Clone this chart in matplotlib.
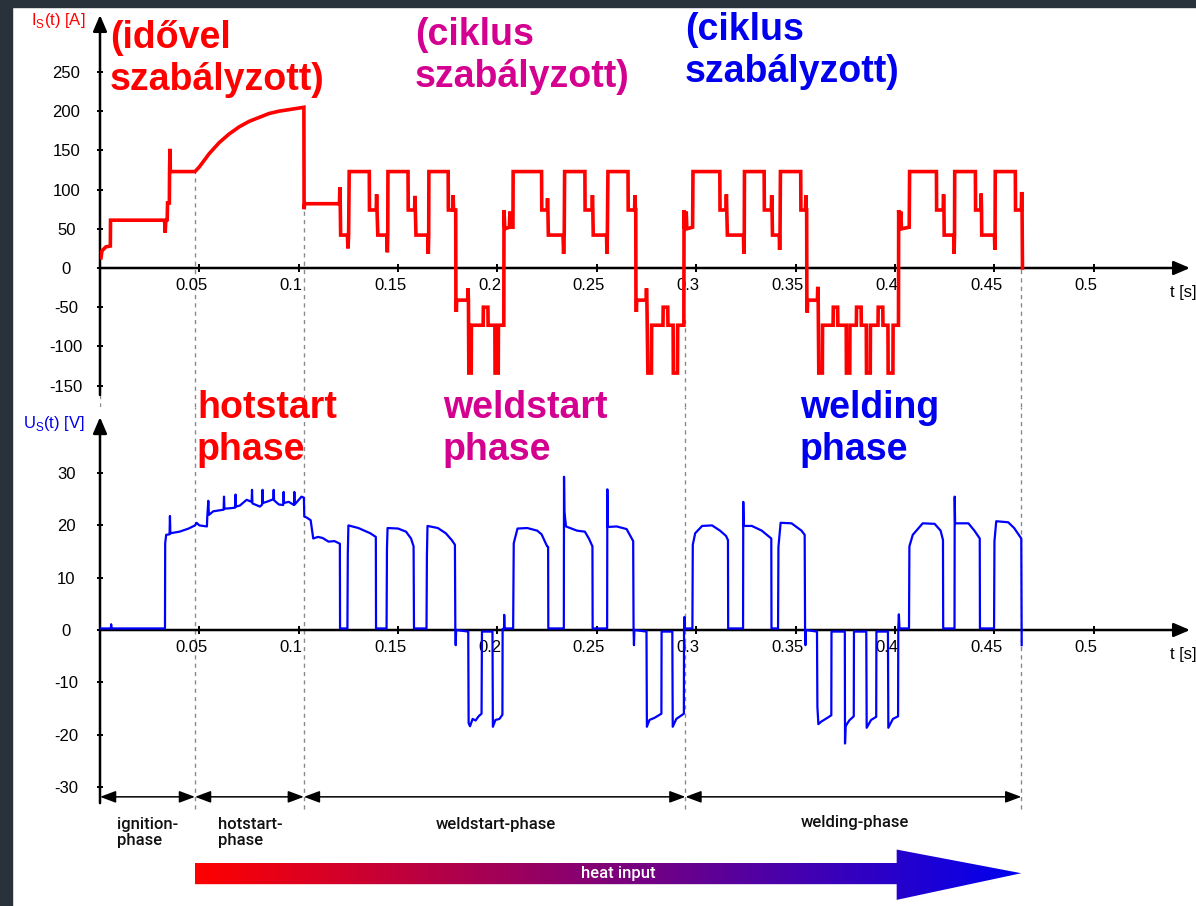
import numpy as np
import matplotlib.pyplot as plt
from matplotlib.patches import Polygon, Rectangle
from matplotlib.transforms import ScaledTranslation

plt.rcParams['font.family'] = ['Liberation Sans', 'DejaVu Sans']
plt.rcParams['mathtext.fontset'] = 'custom'
plt.rcParams['mathtext.rm'] = 'Liberation Sans'

RED = '#ff0000'
MAGENTA = '#d4008f'
BLUE = '#0000ee'

# ---- welding current I_S(t) [A], breakpoints (t [s], I [A]) ----
ignition_I = [(0.0005, 13), (0.001, 22), (0.003, 27), (0.0052, 28), (0.0053, 61),
              (0.0325, 61), (0.0328, 45), (0.0331, 60), (0.0338, 61), (0.0340, 83),
              (0.0349, 83), (0.0350, 122), (0.0352, 152), (0.0354, 123), (0.0478, 123)]
hotstart_I = [(0.050, 129), (0.055, 146), (0.060, 160), (0.065, 171), (0.070, 180),
              (0.075, 187), (0.080, 192), (0.085, 197), (0.090, 200), (0.095, 202),
              (0.100, 204), (0.1026, 205)]
weldstart_I = [(0.1027, 75), (0.1030, 82), (0.1205, 82), (0.1207, 103), (0.1209, 80),
               (0.1211, 42), (0.1245, 42), (0.1248, 25), (0.1251, 42), (0.1254, 123),
               (0.1355, 123), (0.1356, 74), (0.1390, 74), (0.1392, 94), (0.1394, 74),
               (0.1398, 42), (0.1443, 42), (0.1446, 20), (0.1448, 42), (0.1449, 123),
               (0.1550, 123), (0.1551, 74), (0.1583, 74), (0.1585, 92), (0.1587, 74),
               (0.1590, 42), (0.1650, 42), (0.1652, 18), (0.1654, 42), (0.1655, 123),
               (0.1752, 123), (0.1753, 74), (0.1775, 74), (0.1777, 93), (0.1779, 74),
               (0.1790, 74), (0.1791, -41), (0.1793, -56), (0.1795, -41), (0.1850, -41),
               (0.1852, -26), (0.1854, -41), (0.1856, -134), (0.1868, -134), (0.1869, -73),
               (0.1928, -73), (0.1929, -50), (0.1952, -50), (0.1953, -73), (0.1987, -73),
               (0.1988, -134), (0.2004, -134), (0.2005, -73), (0.2032, -73), (0.2033, 74),
               (0.2037, 50), (0.2060, 52), (0.2063, 72), (0.2066, 52), (0.2078, 52),
               (0.2079, 123), (0.2222, 123), (0.2223, 74), (0.2250, 74), (0.2252, 89),
               (0.2254, 74), (0.2256, 42), (0.2330, 42), (0.2333, 18), (0.2336, 42),
               (0.2338, 123), (0.2440, 123), (0.2441, 74), (0.2476, 74), (0.2478, 93),
               (0.2480, 74), (0.2482, 42), (0.2549, 42), (0.2551, 18), (0.2553, 42),
               (0.2556, 123), (0.2657, 123), (0.2658, 74), (0.2690, 74), (0.2692, 93),
               (0.2694, 74), (0.2696, 74), (0.2697, -41), (0.2699, -56), (0.2701, -41),
               (0.2748, -41), (0.2750, -26), (0.2752, -41), (0.2757, -134), (0.2775, -134),
               (0.2776, -73), (0.2833, -73), (0.2834, -50), (0.2857, -50), (0.2858, -73),
               (0.2884, -73), (0.2885, -134), (0.2906, -134), (0.2907, -73), (0.2938, -73)]
welding_I = [(0.2939, 74), (0.2942, 50), (0.2950, 72), (0.2953, 50), (0.2982, 52),
             (0.2984, 123), (0.3119, 123), (0.3120, 74), (0.3150, 74), (0.3152, 94),
             (0.3154, 74), (0.3157, 42), (0.3238, 42), (0.3240, 18), (0.3242, 42),
             (0.3243, 123), (0.3342, 123), (0.3343, 74), (0.3378, 74), (0.3380, 93),
             (0.3382, 74), (0.3384, 42), (0.3418, 42), (0.3420, 23), (0.3422, 42),
             (0.3424, 123), (0.3526, 123), (0.3527, 74), (0.3550, 74), (0.3552, 93),
             (0.3554, 74), (0.3556, 74), (0.3557, -41), (0.3559, -57), (0.3561, -41),
             (0.3610, -41), (0.3612, -24), (0.3614, -41), (0.3617, -134), (0.3635, -134),
             (0.3636, -73), (0.3689, -73), (0.3690, -50), (0.3712, -50), (0.3713, -73),
             (0.3755, -73), (0.3756, -134), (0.3773, -134), (0.3774, -73), (0.3806, -73),
             (0.3807, -50), (0.3830, -50), (0.3831, -73), (0.3856, -73), (0.3857, -134),
             (0.3876, -134), (0.3877, -73), (0.3915, -73), (0.3916, -50), (0.3939, -50),
             (0.3940, -73), (0.3965, -73), (0.3966, -134), (0.3990, -134), (0.3991, -73),
             (0.4018, -73), (0.4019, 74), (0.4022, 50), (0.4030, 72), (0.4033, 50),
             (0.4072, 52), (0.4074, 123), (0.4209, 123), (0.4210, 74), (0.4243, 74),
             (0.4245, 94), (0.4247, 74), (0.4248, 42), (0.4296, 42), (0.4298, 18),
             (0.4300, 42), (0.4301, 123), (0.4405, 123), (0.4406, 74), (0.4432, 74),
             (0.4434, 95), (0.4436, 74), (0.4437, 42), (0.4501, 42), (0.4503, 23),
             (0.4504, 42), (0.4505, 123), (0.4606, 123), (0.4607, 74), (0.4636, 74),
             (0.4638, 97), (0.4640, 74), (0.4642, 0)]

# ---- arc voltage U_S(t) [V], breakpoints (t [s], U [V]) ----
ignition_U = [(0.0, 0.3), (0.0055, 0.3), (0.0056, 1.1), (0.0058, 0.3), (0.0327, 0.3),
              (0.0328, 16.6), (0.0333, 18.2), (0.0350, 18.3), (0.0352, 21.8), (0.0354, 18.5),
              (0.0400, 18.8), (0.0446, 19.4), (0.0478, 20.0)]
hotstart_U = [(0.0486, 20.5), (0.0500, 20.0), (0.0538, 19.8), (0.0540, 21.7), (0.0545, 24.7),
              (0.0548, 22.0), (0.0570, 22.7), (0.0622, 23.0), (0.0624, 25.5), (0.0626, 23.2),
              (0.0660, 23.3), (0.0680, 23.4), (0.0682, 25.9), (0.0684, 23.6), (0.0704, 23.8),
              (0.0738, 24.9), (0.0763, 24.5), (0.0765, 26.8), (0.0767, 24.2), (0.0805, 23.6),
              (0.0816, 24.0), (0.0818, 26.8), (0.0820, 24.3), (0.0838, 24.5), (0.0872, 25.0),
              (0.0874, 26.8), (0.0876, 24.8), (0.0900, 24.0), (0.0922, 23.9), (0.0924, 26.4),
              (0.0926, 24.3), (0.0950, 24.5), (0.0976, 23.9), (0.0978, 26.4), (0.0980, 24.0),
              (0.1014, 25.5), (0.1026, 25.3)]
weldstart_U = [(0.1028, 21.7), (0.1040, 21.5), (0.1060, 21.0), (0.1073, 17.5), (0.1097, 17.8),
               (0.1120, 17.6), (0.1150, 16.9), (0.1180, 17.0), (0.1207, 16.5), (0.1208, 0.3),
               (0.1245, 0.3), (0.1247, 14.7), (0.1250, 20.0), (0.1300, 19.5), (0.1360, 18.5),
               (0.1388, 17.8), (0.1389, 0.3), (0.1442, 0.3), (0.1444, 15.5), (0.1447, 19.5),
               (0.1500, 19.4), (0.1540, 18.8), (0.1565, 17.5), (0.1578, 16.0), (0.1580, 0.3),
               (0.1643, 0.3), (0.1645, 14.0), (0.1648, 19.9), (0.1700, 19.5), (0.1740, 18.5),
               (0.1770, 17.2), (0.1786, 16.3), (0.1788, 0.3), (0.1790, -2.9), (0.1792, 0.0),
               (0.1853, -0.3), (0.1855, -17.8), (0.1862, -18.4), (0.1875, -17.0), (0.1890, -17.3),
               (0.1905, -16.5), (0.1920, -16.0), (0.1922, -0.3), (0.1975, -0.3), (0.1977, -18.5),
               (0.1990, -17.2), (0.2010, -17.0), (0.2025, -16.2), (0.2026, 0.2), (0.2033, 0.2),
               (0.2034, 2.9), (0.2036, 0.3), (0.2079, 0.3), (0.2082, 16.6), (0.2101, 19.4),
               (0.2150, 19.5), (0.2200, 19.0), (0.2222, 18.3), (0.2250, 16.0), (0.2255, 15.9),
               (0.2256, 0.3), (0.2334, 0.3), (0.2335, 29.3), (0.2337, 22.6), (0.2345, 19.8),
               (0.2400, 19.0), (0.2440, 18.8), (0.2460, 17.5), (0.2478, 16.0), (0.2479, 0.3),
               (0.2552, 0.3), (0.2553, 26.9), (0.2555, 19.7), (0.2600, 19.8), (0.2650, 19.3),
               (0.2683, 17.0), (0.2685, 0.0), (0.2687, -2.9), (0.2689, 0.0), (0.2750, -0.3),
               (0.2752, -18.5), (0.2765, -17.2), (0.2790, -16.8), (0.2825, -16.0), (0.2826, -0.3),
               (0.2880, -0.3), (0.2882, -18.5), (0.2900, -17.0), (0.2938, -16.0), (0.2939, 0.2),
               (0.2941, 2.5), (0.2943, 0.3)]
welding_U = [(0.2981, 0.3), (0.2983, 16.3), (0.2995, 18.5), (0.3030, 19.9), (0.3080, 20.0),
             (0.3120, 19.0), (0.3150, 18.0), (0.3160, 17.2), (0.3161, 0.3), (0.3236, 0.3),
             (0.3237, 24.5), (0.3239, 19.9), (0.3280, 19.9), (0.3330, 19.0), (0.3378, 17.5),
             (0.3379, 0.3), (0.3412, 0.3), (0.3414, 15.9), (0.3425, 20.5), (0.3480, 20.4),
             (0.3530, 19.0), (0.3546, 18.2), (0.3548, 0.0), (0.3550, -2.9), (0.3552, 0.0),
             (0.3608, -0.3), (0.3610, -14.7), (0.3615, -18.0), (0.3630, -17.5), (0.3660, -16.8),
             (0.3680, -16.3), (0.3681, -0.3), (0.3748, -0.3), (0.3749, -21.7), (0.3752, -18.4),
             (0.3770, -17.3), (0.3793, -16.5), (0.3794, -0.3), (0.3856, -0.3), (0.3858, -18.7),
             (0.3880, -17.2), (0.3906, -16.6), (0.3907, -0.3), (0.3965, -0.3), (0.3967, -18.7),
             (0.3990, -17.0), (0.4016, -16.5), (0.4017, 0.2), (0.4020, 3.0), (0.4023, 0.3),
             (0.4071, 0.3), (0.4073, 16.0), (0.4090, 18.2), (0.4140, 20.4), (0.4200, 20.3),
             (0.4230, 19.0), (0.4242, 17.2), (0.4243, 0.3), (0.4300, 0.3), (0.4301, 25.5),
             (0.4303, 20.4), (0.4370, 20.4), (0.4400, 19.0), (0.4427, 17.5), (0.4428, 0.3),
             (0.4499, 0.3), (0.4501, 17.0), (0.4510, 20.8), (0.4570, 20.6), (0.4600, 19.5),
             (0.4636, 17.5), (0.4638, -2.9)]

# phase boundaries [s] and where the dashed marker starts on the current trace [A]
phase_t = [0.0478, 0.1026, 0.2946, 0.4636]
phase_I = [123, 80, -60, 0]
phase_names = ['ignition-\nphase', 'hotstart-\nphase', 'weldstart-phase', 'welding-phase']

t_ticks = [0.05, 0.1, 0.15, 0.2, 0.25, 0.3, 0.35, 0.4, 0.45, 0.5]
t_labels = ['0.05', '0.1', '0.15', '0.2', '0.25', '0.3', '0.35', '0.4', '0.45', '0.5']
I_ticks = [-150, -100, -50, 0, 50, 100, 150, 200, 250]
U_ticks = [-30, -20, -10, 0, 10, 20, 30]

W, H = 1196, 906
fig = plt.figure(figsize=(W / 100, H / 100), dpi=100)
fig.patch.set_facecolor('white')


def fx(px):
    return px / W


def fy(py):
    return 1 - py / H


T_MAX = 0.5485
ax1 = fig.add_axes([fx(100), fy(407), 1090 / W, 397 / H])
ax2 = fig.add_axes([fx(100), fy(906), 1090 / W, 499 / H])
ax1.set_facecolor('none')
ax2.set_facecolor('none')

arrow_kw = dict(arrowstyle='-|>,head_length=0.7,head_width=0.3', color='black',
                lw=1.8, mutation_scale=14, shrinkA=0, shrinkB=0)


def style_axes(ax, yticks, y_bottom, y_top):
    for s in ax.spines.values():
        s.set_visible(False)
    ax.spines['bottom'].set_position(('data', 0))
    ax.set_xticks(t_ticks, t_labels)
    ax.set_yticks(yticks, [str(v) for v in yticks], ha='center')
    ax.tick_params(axis='x', direction='inout', length=6, width=1.4, pad=4,
                   labelsize=12, color='black')
    ax.tick_params(axis='y', direction='inout', length=4.5, width=1.4, pad=22,
                   labelsize=12, color='black')
    shift = ScaledTranslation(-0.08, 0, fig.dpi_scale_trans)
    for lbl in ax.get_xticklabels():
        lbl.set_transform(lbl.get_transform() + shift)
    # axis lines with arrow heads
    ax.annotate('', xy=(T_MAX, 0), xytext=(0, 0), arrowprops=arrow_kw, annotation_clip=False)
    ax.annotate('', xy=(0, y_top), xytext=(0, y_bottom), arrowprops=arrow_kw,
                annotation_clip=False)


# ---- top: current ----
ax1.set_xlim(0, T_MAX)
ax1.set_ylim(-177.3, 329.1)
style_axes(ax1, I_ticks, -162, 322.7)
cur = np.array(ignition_I + hotstart_I + weldstart_I + welding_I)
ax1.plot(cur[:, 0], cur[:, 1], color=RED, lw=2.6, solid_joinstyle='miter', zorder=3)
ax1.vlines(phase_t, -177.3, phase_I, colors='#8a8a8a', linestyles=(0, (3, 3)), lw=1, zorder=1)
ax1.vlines([0], -177.3, -162, colors='#8a8a8a', linestyles=(0, (3, 3)), lw=1)

# ---- bottom: voltage ----
ax2.set_xlim(0, T_MAX)
ax2.set_ylim(-52.77, 42.64)
style_axes(ax2, U_ticks, -33.1, 40.7)
vol = np.array(ignition_U + hotstart_U + weldstart_U + welding_U)
ax2.plot(vol[:, 0], vol[:, 1], color='#0000ff', lw=1.6, zorder=3)
ax2.vlines(phase_t, -34.2, 42.64, colors='#8a8a8a', linestyles=(0, (3, 3)), lw=1, zorder=1)

# phase spans
y_span = -31.9
bounds = [0] + phase_t
for a, b in zip(bounds[:-1], bounds[1:]):
    ax2.annotate('', xy=(b, y_span), xytext=(a, y_span),
                 arrowprops=dict(arrowstyle='<|-|>,head_length=0.8,head_width=0.3',
                                 color='black', lw=1.1, mutation_scale=12,
                                 shrinkA=0, shrinkB=0))
lab_kw = dict(fontsize=12, family=['Roboto', 'DejaVu Sans'], fontweight='medium',
              color='#111111', linespacing=1.05, va='top')
ax2.text(0.0085, -35.8, phase_names[0], ha='left', **lab_kw)
ax2.text(0.0595, -35.8, phase_names[1], ha='left', **lab_kw)
ax2.text(0.199, -35.8, phase_names[2], ha='center', **lab_kw)
ax2.text(0.380, -35.4, phase_names[3], ha='center', **lab_kw)

# heat input arrow with red-to-blue gradient
x0, x_head, x_tip = phase_t[0], 0.4009, phase_t[3]
bar_lo, bar_hi, head_lo, head_hi, y_mid = -48.6, -44.55, -51.6, -41.98, -46.5
arrow_poly = Polygon([(x0, bar_hi), (x_head, bar_hi), (x_head, head_hi), (x_tip, y_mid),
                      (x_head, head_lo), (x_head, bar_lo), (x0, bar_lo)],
                     closed=True, facecolor='none', edgecolor='none', transform=ax2.transData)
ax2.add_patch(arrow_poly)
ramp = np.linspace(0, 1, 256)
grad = np.zeros((1, 256, 3))
grad[0, :, 0] = 1 - ramp
grad[0, :, 2] = 0.94 * ramp
img = ax2.imshow(grad, extent=(x0, x_tip, head_lo, head_hi), aspect='auto',
                 interpolation='bilinear', zorder=2)
img.set_clip_path(arrow_poly)
ax2.set_xlim(0, T_MAX)
ax2.set_ylim(-52.77, 42.64)
ax2.text(0.261, y_mid, 'heat input', color='white', fontsize=12, fontweight='medium',
         family=['Roboto', 'DejaVu Sans'], ha='center', va='center', zorder=4)

# axis titles
fig.text(fx(85), fy(20), r'I$_{\mathregular{S}}$(t) [A]', color=RED, fontsize=12,
         ha='right', va='center')
fig.text(fx(85), fy(423), r'U$_{\mathregular{S}}$(t) [V]', color=BLUE, fontsize=12,
         ha='right', va='center')
fig.text(fx(1170), fy(293), 't [s]', fontsize=12, ha='left', va='center')
fig.text(fx(1170), fy(655), 't [s]', fontsize=12, ha='left', va='center')

# large annotations
big = dict(fontsize=27, fontweight='bold', ha='left', va='baseline')


def two_lines(px, py1, py2, l1, l2, color):
    fig.text(fx(px), fy(py1), l1, color=color, **big)
    fig.text(fx(px), fy(py2), l2, color=color, **big)


two_lines(110, 48, 90, '(idővel', 'szabályzott)', RED)
two_lines(415, 45, 87, '(ciklus', 'szabályzott)', MAGENTA)
two_lines(685, 40, 82, '(ciklus', 'szabályzott)', BLUE)
two_lines(197, 418, 460, 'hotstart', 'phase', RED)
two_lines(443, 418, 460, 'weldstart', 'phase', MAGENTA)
two_lines(800, 418, 460, 'welding', 'phase', BLUE)

# dark frame strips along the top and left edges
fig.add_artist(Rectangle((0, fy(7)), 1, 7 / H, transform=fig.transFigure,
                         color='#29313b', zorder=10))
fig.add_artist(Rectangle((0, 0), fx(12), 1, transform=fig.transFigure,
                         color='#29313b', zorder=10))

fig.savefig('out.png', dpi=100)
